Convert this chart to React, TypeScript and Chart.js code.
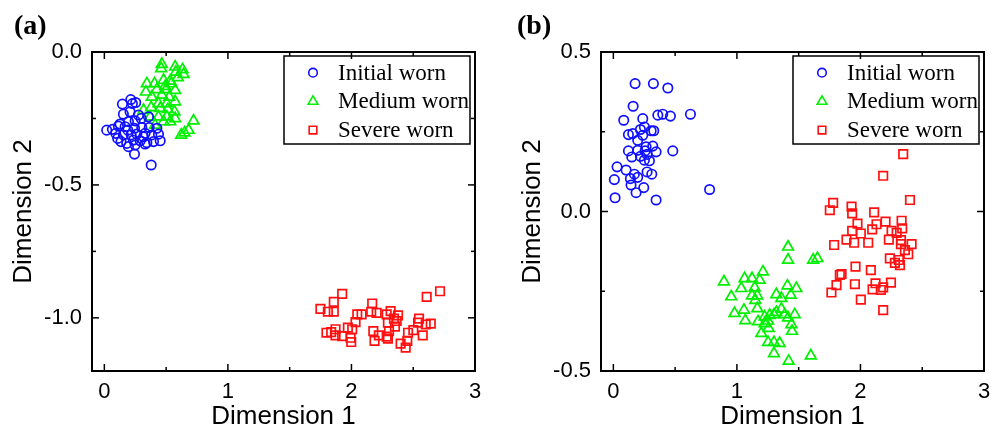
import React, { useEffect, useRef } from 'react';
import { Chart, registerables } from 'chart.js';
import { drawPoint } from 'chart.js/helpers';

Chart.register(...registerables);

// ---------- data ----------
const seriesNames = ['Initial worn', 'Medium worn', 'Severe worn'];
const xTickValues = [0, 1, 2, 3];
const xMinorValues = [0.5, 1.5, 2.5];
const aYTickValues = [0, -0.5, -1.0];
const aYMinorValues = [-0.25, -0.75];
const bYTickValues = [0.5, 0, -0.5];
const bYMinorValues = [0.25, -0.25];

// Panel (a)
const aInitialX = [0.214, 0.146, 0.227, 0.254, 0.154, 0.208, 0.127, 0.195, 0.249, 0.298, 0.357, 0.019, 0.065, 0.114, 0.190, 0.244, 0.303, 0.363, 0.425, 0.108, 0.154, 0.217, 0.263, 0.330, 0.384, 0.438, 0.135, 0.181, 0.235, 0.290, 0.344, 0.398, 0.452, 0.195, 0.249, 0.330, 0.244, 0.379, 0.092, 0.276, 0.317, 0.168];
const aInitialY = [-0.179, -0.196, -0.194, -0.190, -0.234, -0.225, -0.271, -0.262, -0.259, -0.250, -0.244, -0.294, -0.291, -0.279, -0.294, -0.287, -0.284, -0.284, -0.287, -0.325, -0.312, -0.312, -0.309, -0.306, -0.312, -0.309, -0.337, -0.344, -0.331, -0.334, -0.341, -0.337, -0.334, -0.356, -0.350, -0.346, -0.384, -0.425, -0.306, -0.237, -0.319, -0.281];
const aMediumX = [0.465, 0.460, 0.573, 0.633, 0.579, 0.641, 0.344, 0.406, 0.479, 0.533, 0.595, 0.425, 0.498, 0.573, 0.384, 0.465, 0.525, 0.438, 0.506, 0.573, 0.317, 0.379, 0.452, 0.514, 0.568, 0.371, 0.438, 0.506, 0.573, 0.533, 0.722, 0.682, 0.622, 0.649, 0.411, 0.479, 0.336, 0.492, 0.541];
const aMediumY = [-0.046, -0.062, -0.056, -0.066, -0.075, -0.084, -0.119, -0.119, -0.106, -0.109, -0.096, -0.141, -0.141, -0.144, -0.169, -0.162, -0.169, -0.194, -0.194, -0.187, -0.219, -0.209, -0.212, -0.216, -0.225, -0.244, -0.244, -0.244, -0.250, -0.262, -0.259, -0.294, -0.312, -0.304, -0.275, -0.262, -0.150, -0.129, -0.119];
const aSevereX = [1.925, 1.857, 1.749, 1.809, 1.857, 2.168, 2.160, 2.204, 2.047, 2.082, 2.033, 2.285, 2.317, 2.377, 2.295, 2.366, 2.352, 2.717, 2.609, 2.547, 2.539, 2.601, 2.642, 2.501, 2.577, 2.458, 1.798, 1.836, 1.871, 1.871, 1.971, 2.006, 1.993, 1.925, 1.998, 2.177, 2.187, 2.222, 2.285, 2.295, 2.398, 2.439, 2.452, 2.304, 2.344];
const aSevereY = [-0.910, -0.940, -0.966, -0.977, -0.977, -0.946, -0.977, -0.981, -0.987, -0.987, -1.016, -0.987, -0.975, -0.991, -1.018, -1.012, -1.033, -0.900, -0.921, -1.003, -1.018, -1.025, -1.022, -1.046, -1.066, -1.056, -1.056, -1.054, -1.043, -1.066, -1.037, -1.043, -1.075, -1.069, -1.091, -1.050, -1.087, -1.066, -1.071, -1.078, -1.097, -1.112, -1.087, -1.050, -1.003];

// Panel (b)
const bInitialX = [0.176, 0.324, 0.441, 0.160, 0.084, 0.238, 0.360, 0.400, 0.462, 0.624, 0.122, 0.157, 0.219, 0.251, 0.306, 0.327, 0.197, 0.265, 0.319, 0.122, 0.197, 0.257, 0.346, 0.481, 0.149, 0.219, 0.273, 0.292, 0.030, 0.103, 0.170, 0.273, 0.311, 0.008, 0.138, 0.197, 0.143, 0.246, 0.184, 0.779, 0.014, 0.346, 0.238, 0.251];
const bInitialY = [0.401, 0.401, 0.387, 0.330, 0.286, 0.291, 0.302, 0.305, 0.299, 0.305, 0.241, 0.244, 0.257, 0.265, 0.253, 0.253, 0.223, 0.203, 0.205, 0.190, 0.192, 0.190, 0.187, 0.190, 0.171, 0.173, 0.179, 0.159, 0.140, 0.130, 0.117, 0.124, 0.117, 0.100, 0.103, 0.107, 0.083, 0.075, 0.059, 0.069, 0.043, 0.036, 0.239, 0.161];
const bMediumX = [1.414, 1.617, 1.652, 0.895, 1.211, 1.062, 1.122, 1.184, 1.035, 1.144, 0.954, 1.122, 1.165, 1.149, 1.319, 1.409, 1.481, 1.436, 1.360, 0.981, 1.057, 1.068, 1.165, 1.225, 1.265, 1.171, 1.225, 1.319, 1.360, 1.300, 1.387, 1.468, 1.414, 1.441, 1.446, 1.198, 1.257, 1.252, 1.300, 1.346, 1.300, 1.419, 1.598, 1.252, 1.414];
const bMediumY = [-0.152, -0.152, -0.147, -0.220, -0.189, -0.210, -0.210, -0.215, -0.241, -0.239, -0.267, -0.264, -0.264, -0.278, -0.260, -0.233, -0.241, -0.262, -0.272, -0.319, -0.309, -0.342, -0.304, -0.330, -0.325, -0.345, -0.351, -0.316, -0.306, -0.323, -0.323, -0.323, -0.333, -0.354, -0.375, -0.382, -0.366, -0.410, -0.410, -0.413, -0.445, -0.469, -0.452, -0.343, -0.111];
const bSevereX = [2.401, 1.779, 1.752, 1.928, 1.933, 2.111, 1.976, 2.130, 2.203, 2.333, 2.095, 1.933, 2.003, 2.252, 2.338, 2.293, 1.887, 1.949, 2.063, 2.230, 2.328, 2.328, 2.414, 2.360, 2.387, 1.787, 2.238, 2.311, 2.279, 2.320, 1.960, 2.084, 1.833, 1.847, 1.955, 1.806, 1.765, 2.122, 2.247, 2.184, 2.098, 2.165, 2.003, 2.184, 2.346, 2.184];
const bSevereY = [0.036, 0.027, 0.004, 0.015, -0.006, -0.003, -0.038, -0.040, -0.032, -0.029, -0.056, -0.061, -0.069, -0.061, -0.053, -0.067, -0.088, -0.098, -0.098, -0.088, -0.090, -0.102, -0.102, -0.121, -0.134, -0.105, -0.147, -0.152, -0.161, -0.168, -0.173, -0.184, -0.199, -0.196, -0.228, -0.231, -0.254, -0.225, -0.223, -0.238, -0.244, -0.246, -0.276, -0.309, 0.180, 0.112];

// ---------- styles ----------
const seriesColors = ['#1010ff', '#00f000', '#ff1010'];
const seriesStyles = ['circle', 'triangle', 'rect'];
const seriesRadius = [4.7, 6.2, 6.0];
const legendRadius = [4.3, 5.6, 5.4];
const SANS = '"Liberation Sans", Arial, sans-serif';
const SERIF = '"Liberation Serif", "Times New Roman", serif';

const zip = (xs: number[], ys: number[]) => xs.map((x, i) => ({ x, y: ys[i] }));

type PanelCfg = {
  label: string;
  labelX: number;
  yMin: number;
  yMax: number;
  yTicks: number[];
  yMinor: number[];
  axisWidth: number;
  titlePad: number;
  rightPad: number;
  series: { x: number; y: number }[][];
};

const panels: PanelCfg[] = [
  {
    label: '(a)', labelX: 14, yMin: -1.2, yMax: 0, yTicks: aYTickValues, yMinor: aYMinorValues,
    axisWidth: 92, titlePad: 11, rightPad: 25,
    series: [zip(aInitialX, aInitialY), zip(aMediumX, aMediumY), zip(aSevereX, aSevereY)],
  },
  {
    label: '(b)', labelX: 17, yMin: -0.5, yMax: 0.5, yTicks: bYTickValues, yMinor: bYMinorValues,
    axisWidth: 101, titlePad: 20, rightPad: 16,
    series: [zip(bInitialX, bInitialY), zip(bMediumX, bMediumY), zip(bSevereX, bSevereY)],
  },
];

const framePlugin = {
  id: 'frame',
  afterDatasetsDraw(chart: any, _args: any, opts: any) {
    const { ctx, chartArea } = chart;
    const { left, right, top, bottom } = chartArea;
    const xs = chart.scales.x;
    const ys = chart.scales.y;
    ctx.save();
    ctx.strokeStyle = '#000';
    ctx.lineWidth = 2;
    ctx.strokeRect(left, top, right - left, bottom - top);
    ctx.lineWidth = 1.5;
    const seg = (x1: number, y1: number, x2: number, y2: number) => {
      ctx.beginPath(); ctx.moveTo(x1, y1); ctx.lineTo(x2, y2); ctx.stroke();
    };
    const xt = (vals: number[], len: number) => vals.forEach(v => {
      const p = xs.getPixelForValue(v);
      seg(p, bottom, p, bottom - len); seg(p, top, p, top + len);
    });
    const yt = (vals: number[], len: number) => vals.forEach(v => {
      const p = ys.getPixelForValue(v);
      seg(left, p, left + len, p); seg(right, p, right - len, p);
    });
    xt(xTickValues, 7); xt(xMinorValues, 4);
    yt(opts.yTicks, 7); yt(opts.yMinor, 4);

    // legend box
    const bw = 186, bh = 88;
    const bx = right - 5 - bw, by = top + 4;
    ctx.lineWidth = 1.5;
    ctx.strokeRect(bx, by, bw, bh);
    ctx.font = `23px ${SERIF}`;
    ctx.textBaseline = 'middle';
    ctx.textAlign = 'left';
    chart.data.datasets.forEach((ds: any, i: number) => {
      const ry = by + 16.7 + i * 28.7;
      ctx.strokeStyle = ds.borderColor;
      ctx.fillStyle = 'rgba(0,0,0,0)';
      ctx.lineWidth = 1.6;
      drawPoint(ctx, { pointStyle: ds.pointStyle, radius: legendRadius[i], borderWidth: 1.6, rotation: 0 } as any, bx + 29, ry);
      ctx.fillStyle = '#000';
      ctx.fillText(ds.label, bx + 54, ry + 1);
    });

    // panel label
    ctx.fillStyle = '#000';
    ctx.font = `bold 28px ${SERIF}`;
    ctx.textBaseline = 'alphabetic';
    ctx.fillText(opts.label, opts.labelX, 34);
    ctx.restore();
  },
};

function Panel({ cfg }: { cfg: PanelCfg }) {
  const ref = useRef<HTMLCanvasElement>(null);
  useEffect(() => {
    if (!ref.current) return;
    const chart = new Chart(ref.current, {
      type: 'scatter',
      data: {
        datasets: cfg.series.map((pts, i) => ({
          label: seriesNames[i],
          data: pts,
          pointStyle: seriesStyles[i] as any,
          pointRadius: seriesRadius[i],
          borderColor: seriesColors[i],
          backgroundColor: 'rgba(0,0,0,0)',
          pointBorderWidth: 1.7,
          borderWidth: 1.7,
        })),
      },
      options: {
        responsive: false,
        animation: false,
        devicePixelRatio: 1,
        color: '#000',
        layout: { padding: { left: 0, top: 52, right: cfg.rightPad, bottom: 0 } },
        plugins: {
          legend: { display: false },
          tooltip: { enabled: false },
          frame: { yTicks: cfg.yTicks, yMinor: cfg.yMinor, label: cfg.label, labelX: cfg.labelX },
        } as any,
        scales: {
          x: {
            type: 'linear',
            min: -0.1,
            max: 3,
            grid: { display: false, drawTicks: false },
            border: { display: false },
            ticks: {
              stepSize: 1,
              includeBounds: false,
              padding: 8,
              color: '#000',
              font: { family: SANS, size: 22 },
              callback: (v: any) => String(v),
            },
            title: {
              display: true,
              text: 'Dimension 1',
              color: '#000',
              font: { family: SANS, size: 26, lineHeight: 1 },
              padding: { top: 0, bottom: -5 },
            },
            afterFit: (s: any) => { s.height = 54; },
          },
          y: {
            type: 'linear',
            min: cfg.yMin,
            max: cfg.yMax,
            grid: { display: false, drawTicks: false },
            border: { display: false },
            ticks: {
              stepSize: 0.5,
              includeBounds: false,
              padding: 10,
              color: '#000',
              font: { family: SANS, size: 22 },
              callback: (v: any) => Number(v).toFixed(1),
            },
            title: {
              display: true,
              text: 'Dimension 2',
              color: '#000',
              font: { family: SANS, size: 26, lineHeight: 1 },
              padding: { top: cfg.titlePad, bottom: 0 },
            },
            afterFit: (s: any) => { s.width = cfg.axisWidth; },
          },
        },
      } as any,
      plugins: [framePlugin as any],
    });
    return () => chart.destroy();
  }, [cfg]);
  return <canvas ref={ref} width={500} height={425} style={{ display: 'block', width: 500, height: 425 }} />;
}

export default function App() {
  return (
    <div style={{ position: 'fixed', left: 0, top: 0, width: 1000, height: 425, display: 'flex', background: '#fff', overflow: 'hidden' }}>
      {panels.map(p => <Panel key={p.label} cfg={p} />)}
    </div>
  );
}
